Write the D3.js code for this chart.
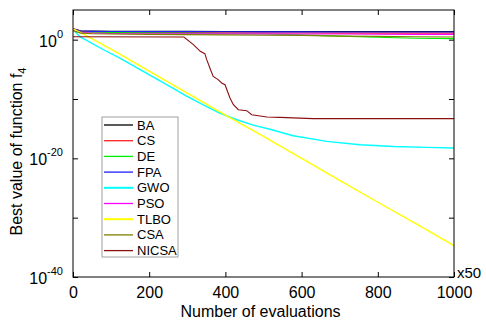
<!DOCTYPE html>
<html>
<head>
<meta charset="utf-8">
<script src="https://cdn.jsdelivr.net/npm/d3@7"></script>
<style>
  body { margin: 0; background: #fff; }
  svg { display: block; font-family: "Liberation Sans", Arial, sans-serif; }
</style>
</head>
<body>
<div id="chart"></div>
<script>
// x samples (x50 evaluations) and log10 of best value
const flatX = [0, 20, 50, 100, 200, 300, 400, 500, 600, 700, 800, 900, 1000]
const baLog   = [1.85, 1.5, 1.45, 1.42, 1.4, 1.4, 1.38, 1.38, 1.36, 1.36, 1.35, 1.35, 1.35]
const csLog   = [1.9, 1.4, 1.3, 1.25, 1.2, 1.18, 1.15, 1.15, 1.12, 1.1, 1.1, 1.1, 1.1]
const deLog   = [1.6, 1.3, 1.25, 1.2, 1.15, 1.1, 1.05, 0.95, 0.8, 0.6, 0.4, 0.25, 0.17]
const fpaLog  = [1.8, 1.45, 1.4, 1.38, 1.36, 1.35, 1.33, 1.32, 1.32, 1.3, 1.3, 1.3, 1.3]
const psoLog  = [1.7, 1.2, 1.1, 1.05, 1.0, 1.0, 0.98, 0.98, 0.95, 0.95, 0.92, 0.9, 0.9]
const csaLog  = [1.5, 1.1, 1.0, 0.95, 0.9, 0.85, 0.8, 0.75, 0.7, 0.6, 0.55, 0.5, 0.45]

const gwoX   = [0, 18, 80, 123, 167, 211, 255, 298, 342, 386, 430, 473, 517, 578, 666, 753, 841, 928, 1000]
const gwoLog = [1.7, 0.5, -1.7, -3.1, -4.7, -6.3, -7.9, -9.5, -11.0, -12.4, -13.5, -14.4, -15.1, -16.2, -17.15, -17.7, -18.0, -18.16, -18.26]

const tlboX   = [0, 20, 100, 200, 300, 400, 500, 600, 700, 800, 900, 1000]
const tlboLog = [1.8, 1.2, -1.6, -5.3, -9.0, -12.7, -16.3, -20.0, -23.7, -27.4, -31.0, -34.7]

const nicsaX   = [0, 291, 316, 334, 346, 351, 361, 368, 381, 390, 399, 412, 421, 434, 456, 469, 509, 543, 630, 1000]
const nicsaLog = [0.5, 0.45, -0.84, -1.96, -2.36, -3.37, -5.06, -6.19, -6.74, -7.3, -7.6, -9.84, -10.96, -11.8, -11.97, -12.65, -13.03, -13.1, -13.3, -13.3]

const names  = ["BA", "CS", "DE", "FPA", "GWO", "PSO", "TLBO", "CSA", "NICSA"]
const colors = ["#000000", "#ff2020", "#00ee00", "#2020ff", "#00ffff", "#ff00ff", "#ffff00", "#808000", "#8b1010"]
const xTicks = [0, 200, 400, 600, 800, 1000]
const yTicks = [1e0, 1e-10, 1e-20, 1e-30, 1e-40]

const series = [
  {x: flatX, y: baLog}, {x: flatX, y: csLog}, {x: flatX, y: deLog},
  {x: flatX, y: fpaLog}, {x: gwoX, y: gwoLog}, {x: flatX, y: psoLog},
  {x: tlboX, y: tlboLog}, {x: flatX, y: csaLog}, {x: nicsaX, y: nicsaLog}
]

const W = 486, H = 320
const margin = {top: 10, right: 32, bottom: 43, left: 73}
const iw = W - margin.left - margin.right
const ih = H - margin.top - margin.bottom

const svg = d3.select("#chart").append("svg").attr("width", W).attr("height", H)
const g = svg.append("g").attr("transform", `translate(${margin.left},${margin.top})`)

const x = d3.scaleLinear().domain([0, 1000]).range([0, iw])
const y = d3.scaleLog().domain([1e-40, 1e5]).range([ih, 0])

g.append("clipPath").attr("id", "clip")
  .append("rect").attr("width", iw).attr("height", ih)

const line = d3.line().x(d => x(d[0])).y(d => y(d[1]))
const lines = g.append("g").attr("clip-path", "url(#clip)")
series.forEach((s, i) => {
  const pts = s.x.map((v, j) => [v, Math.pow(10, s.y[j])])
  lines.append("path").datum(pts)
    .attr("fill", "none")
    .attr("stroke", colors[i])
    .attr("stroke-width", (names[i] === "GWO" || names[i] === "TLBO") ? 1.4 : 1.1)
    .attr("d", line)
})

// axes: ticks inward on all four sides
const tl = 5
g.append("g").attr("transform", `translate(0,${ih})`)
  .call(d3.axisBottom(x).tickValues(xTicks).tickSizeInner(-tl).tickSizeOuter(0).tickPadding(10).tickFormat(d3.format("d")))
g.append("g")
  .call(d3.axisTop(x).tickValues(xTicks).tickSizeInner(-tl).tickSizeOuter(0).tickFormat(""))
g.append("g")
  .call(d3.axisLeft(y).tickValues(yTicks).tickSizeInner(-tl).tickSizeOuter(0).tickFormat(""))
g.append("g").attr("transform", `translate(${iw},0)`)
  .call(d3.axisRight(y).tickValues(yTicks).tickSizeInner(-tl).tickSizeOuter(0).tickFormat(""))

g.selectAll(".domain").remove()
g.selectAll(".tick line").attr("stroke", "#000")
g.selectAll(".tick text").attr("font-size", 16).attr("fill", "#000")
  .attr("font-family", "Liberation Sans, Arial, sans-serif")

g.append("rect").attr("width", iw).attr("height", ih)
  .attr("fill", "none").attr("stroke", "#000").attr("stroke-width", 1)

// y tick labels as 10^k
const yl = g.append("g")
;[1e0, 1e-20, 1e-40].forEach(v => {
  const e = Math.round(Math.log10(v))
  const t = yl.append("text")
    .attr("x", -10).attr("y", y(v) + 7)
    .attr("text-anchor", "end")
    .attr("font-size", 16)
  t.append("tspan").text("10")
  t.append("tspan").attr("font-size", 11).attr("dy", -9).text(String(e))
})

// x50 multiplier
g.append("text").attr("x", iw + 3).attr("y", ih + 1)
  .attr("font-size", 15).text("x50")

// axis titles
svg.append("text")
  .attr("x", margin.left + iw / 2 - 3).attr("y", 317)
  .attr("text-anchor", "middle").attr("font-size", 16)
  .text("Number of evaluations")

const yt = svg.append("text")
  .attr("transform", `translate(22,${margin.top + ih / 2 + 8}) rotate(-90)`)
  .attr("text-anchor", "middle").attr("font-size", 16)
yt.append("tspan").text("Best value of function f")
yt.append("tspan").attr("font-size", 11).attr("dy", 4).text("4")

// legend
const lg = svg.append("g").attr("transform", "translate(102,117)")
lg.append("rect").attr("width", 76).attr("height", 140)
  .attr("fill", "#fff").attr("stroke", "#a0a0a0").attr("stroke-width", 1)
names.forEach((n, i) => {
  const yy = 8 + i * 15.7
  lg.append("line").attr("x1", 2).attr("x2", 31).attr("y1", yy).attr("y2", yy)
    .attr("stroke", colors[i]).attr("stroke-width", (n === "GWO" || n === "TLBO") ? 2 : 1.3)
  lg.append("text").attr("x", 35).attr("y", yy + 4.5)
    .attr("font-size", 13).text(n)
})
</script>
</body>
</html>
